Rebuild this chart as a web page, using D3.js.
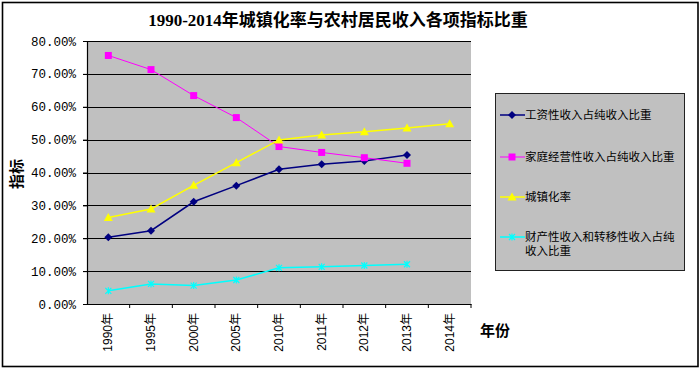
<!DOCTYPE html>
<html lang="zh">
<head>
  <meta charset="UTF-8" />
  <title>1990-2014年城镇化率与农村居民收入各项指标比重</title>
  <script src="https://d3js.org/d3.v7.min.js"></script>
  <style>
    body { margin: 0; background: #fff; }
    svg { display: block; }
    text { font-family: "Liberation Sans", "Noto Sans CJK SC", sans-serif; fill: #000; }
    .title { font-family: "Liberation Serif", "Noto Sans CJK SC", serif; font-weight: bold; font-size: 17px; }
    .ytick { font-family: "Liberation Mono", "Noto Sans CJK SC", monospace; font-size: 12.5px; }
    .xtick { font-size: 12px; }
    .axlabel { font-family: "Noto Sans CJK SC", sans-serif; font-weight: bold; font-size: 15px; }
    .legend text { font-family: "Noto Sans CJK SC", sans-serif; font-size: 11.5px; }
  </style>
</head>
<body>
<svg width="700" height="368" id="chart"></svg>
<script>
  const years = ["1990年", "1995年", "2000年", "2005年", "2010年", "2011年", "2012年", "2013年", "2014年"];
  const seriesNames = ["工资性收入占纯收入比重", "家庭经营性收入占纯收入比重", "城镇化率", "财产性收入和转移性收入占纯收入比重"];
  const wage = [0.203, 0.223, 0.311, 0.360, 0.410, 0.425, 0.435, 0.453, null];
  const family = [0.756, 0.713, 0.634, 0.567, 0.479, 0.461, 0.445, 0.428, null];
  const urban = [0.263, 0.289, 0.361, 0.430, 0.499, 0.514, 0.524, 0.535, 0.548];
  const transfer = [0.040, 0.061, 0.056, 0.073, 0.110, 0.113, 0.117, 0.121, null];
  const yTicks = [0, 0.1, 0.2, 0.3, 0.4, 0.5, 0.6, 0.7, 0.8];

  const svg = d3.select("#chart");
  const plot = { left: 87, right: 471, top: 41, bottom: 304 };

  const x = d3.scaleBand().domain(years).range([plot.left, plot.right]);
  const y = d3.scaleLinear().domain([0, 0.8]).range([plot.bottom, plot.top]);

  // outer frame
  svg.append("rect")
    .attr("x", 2.5).attr("y", 2.5).attr("width", 695.5).attr("height", 364)
    .attr("fill", "#fff").attr("stroke", "#000").attr("stroke-width", 1.6);

  svg.append("text").attr("class", "title")
    .attr("x", 338).attr("y", 26).attr("text-anchor", "middle")
    .text("1990-2014年城镇化率与农村居民收入各项指标比重");

  // plot background
  svg.append("rect")
    .attr("x", plot.left).attr("y", plot.top)
    .attr("width", plot.right - plot.left).attr("height", plot.bottom - plot.top)
    .attr("fill", "#c0c0c0");

  // gridlines
  svg.append("g").selectAll("line").data(yTicks.filter(d => d > 0)).join("line")
    .attr("x1", plot.left - 4).attr("x2", plot.right)
    .attr("y1", d => Math.round(y(d)) + 0.5).attr("y2", d => Math.round(y(d)) + 0.5)
    .attr("stroke", "#000").attr("stroke-width", 1);

  // y axis
  const yAxis = svg.append("g")
    .attr("transform", `translate(${plot.left},0)`)
    .call(d3.axisLeft(y).tickValues(yTicks).tickSize(4).tickFormat(d3.format(".2%")));
  yAxis.select(".domain").attr("stroke", "#000").attr("stroke-width", 1.2);
  yAxis.selectAll("text").attr("class", "ytick").attr("x", -11).attr("fill", "#000");

  // x axis
  const xAxis = svg.append("g")
    .attr("transform", `translate(0,${plot.bottom})`)
    .call(d3.axisBottom(x).tickSize(0).tickFormat(""));
  xAxis.select(".domain").attr("stroke", "#000").attr("stroke-width", 1.2);
  svg.append("g").selectAll("line").data(years).join("line")
    .attr("x1", d => x(d) + x.bandwidth()).attr("x2", d => x(d) + x.bandwidth())
    .attr("y1", plot.bottom).attr("y2", plot.bottom + 4)
    .attr("stroke", "#000");
  svg.append("g").selectAll("text").data(years).join("text")
    .attr("class", "xtick")
    .attr("transform", d => `translate(${x(d) + x.bandwidth() / 2 + 4},313) rotate(-90)`)
    .attr("text-anchor", "end")
    .text(d => d);

  svg.append("text").attr("class", "axlabel")
    .attr("transform", "translate(22,174) rotate(-90)")
    .attr("text-anchor", "middle").text("指标");
  svg.append("text").attr("class", "axlabel")
    .attr("x", 480).attr("y", 336).text("年份");

  const series = [
    { name: seriesNames[0], values: wage, color: "#000080", width: 1.5, marker: "diamond" },
    { name: seriesNames[1], values: family, color: "#ff00ff", width: 1, marker: "square" },
    { name: seriesNames[2], values: urban, color: "#ffff00", width: 1.5, marker: "triangle" },
    { name: seriesNames[3], values: transfer, color: "#00ffff", width: 1.5, marker: "cross" }
  ];

  function drawMarker(g, type, color) {
    if (type === "diamond") {
      g.append("path").attr("d", "M0,-4L4,0L0,4L-4,0Z").attr("fill", color);
    } else if (type === "square") {
      g.append("rect").attr("x", -3.5).attr("y", -3.5).attr("width", 7).attr("height", 7).attr("fill", color);
    } else if (type === "triangle") {
      g.append("path").attr("d", "M0,-4.5L4.5,3.5L-4.5,3.5Z").attr("fill", color);
    } else {
      g.append("path").attr("d", "M-3,-3L3,3M-3,3L3,-3M0,-3.5L0,3.5").attr("stroke", color).attr("stroke-width", 1.2);
    }
  }

  const line = d3.line()
    .defined(d => d.v !== null)
    .x(d => x(d.year) + x.bandwidth() / 2)
    .y(d => y(d.v));

  series.forEach(s => {
    const pts = years.map((year, i) => ({ year, v: s.values[i] }));
    svg.append("path").datum(pts)
      .attr("d", line).attr("fill", "none")
      .attr("stroke", s.color).attr("stroke-width", s.width);
    pts.filter(d => d.v !== null).forEach(d => {
      const g = svg.append("g")
        .attr("transform", `translate(${x(d.year) + x.bandwidth() / 2},${y(d.v)})`);
      drawMarker(g, s.marker, s.color);
    });
  });

  // legend
  const legend = svg.append("g").attr("class", "legend");
  legend.append("rect")
    .attr("x", 495.5).attr("y", 93.5).attr("width", 189).attr("height", 177)
    .attr("fill", "#c0c0c0").attr("stroke", "#222").attr("stroke-width", 1);
  const rowY = [115, 157, 197, 237];
  series.forEach((s, i) => {
    const g = legend.append("g").attr("transform", `translate(0,${rowY[i]})`);
    g.append("line").attr("x1", 500).attr("x2", 525).attr("y1", 0).attr("y2", 0)
      .attr("stroke", s.color).attr("stroke-width", s.width);
    const m = g.append("g").attr("transform", "translate(512,0)");
    drawMarker(m, s.marker, s.color);
    if (i === 3) {
      g.append("text").attr("x", 525).attr("y", 3.5).text("财产性收入和转移性收入占纯");
      g.append("text").attr("x", 525).attr("y", 17.5).text("收入比重");
    } else {
      g.append("text").attr("x", 525).attr("y", 4).text(s.name);
    }
  });
</script>
</body>
</html>
